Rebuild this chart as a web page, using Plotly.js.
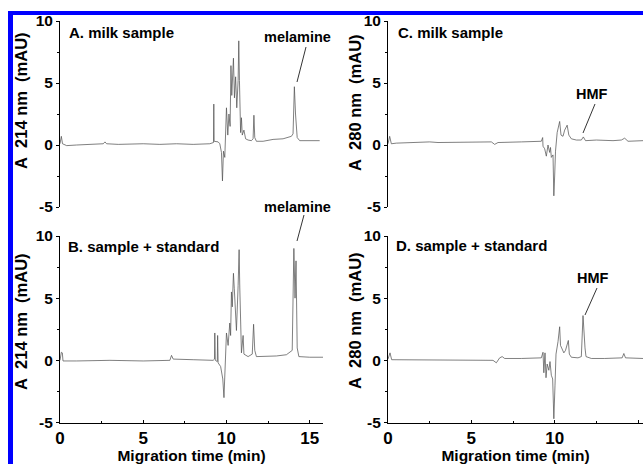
<!DOCTYPE html>
<html>
<head>
<meta charset="utf-8">
<script src="https://cdn.plot.ly/plotly-3.0.1.min.js"></script>
<style>html,body{margin:0;padding:0;background:#fff;}#chart{width:643px;height:464px;}</style>
</head>
<body>
<div id="chart"></div>
<script>
// ---- Data (migration time in min, absorbance in mAU) ----
const timeA = [0.0,0.08,0.15,0.4,1.0,2.0,2.6,2.7,2.8,3.5,5.0,6.0,7.0,8.0,9.0,9.22,9.24,9.26,9.5,9.6,9.7,9.76,9.82,9.9,10.0,10.08,10.15,10.22,10.27,10.32,10.42,10.48,10.55,10.62,10.7,10.74,10.78,10.85,10.9,10.95,11.05,11.15,11.3,11.5,11.6,11.65,11.7,11.8,12.2,12.8,13.4,13.9,14.0,14.08,14.15,14.25,14.4,15.0,15.6];
const absA  = [0.1,0.7,0.1,-0.05,0.0,0.05,0.1,0.25,0.1,0.05,0.1,0.05,0.1,0.05,0.1,0.2,3.3,0.3,0.25,0.1,-0.6,-2.9,-0.5,-1.0,3.0,0.8,2.5,1.5,6.4,4.0,7.0,3.8,5.5,3.0,5.2,8.4,5.2,1.0,2.2,0.8,1.2,0.5,0.4,0.35,0.5,2.4,0.6,0.3,0.3,0.45,0.5,0.7,0.9,4.7,2.5,0.6,0.35,0.35,0.35];

const timeB = [0.0,0.08,0.14,0.18,1.0,3.0,5.0,6.6,6.7,6.8,8.0,9.2,9.28,9.3,9.33,9.45,9.47,9.5,9.65,9.78,9.85,9.92,10.0,10.1,10.2,10.25,10.3,10.35,10.42,10.47,10.55,10.6,10.7,10.76,10.8,10.85,10.9,11.0,11.05,11.3,11.55,11.63,11.7,11.8,12.3,13.0,13.6,13.95,14.05,14.12,14.18,14.25,14.35,15.0,15.8];
const absB  = [0.0,0.65,0.6,-0.05,-0.05,0.0,-0.05,0.0,0.4,0.1,0.05,0.0,0.1,2.2,0.0,-0.1,2.0,-0.2,-0.5,-1.5,-3.0,-1.0,2.2,1.2,3.0,2.0,5.5,4.3,7.0,5.8,4.0,2.4,6.0,8.9,5.9,2.2,0.6,2.0,0.5,0.3,0.5,2.9,0.8,0.3,0.3,0.35,0.45,0.8,9.0,5.0,8.0,1.0,0.3,0.25,0.25];

const timeC = [0.0,0.1,0.2,0.5,1.5,2.5,3.0,4.5,6.2,6.4,6.6,8.0,9.2,9.28,9.3,9.4,9.5,9.6,9.7,9.75,9.8,9.9,9.95,10.0,10.05,10.15,10.3,10.38,10.5,10.6,10.75,10.85,11.0,11.3,11.6,11.72,11.85,12.5,13.5,14.0,14.2,14.4,15.3];
const absC  = [0.1,0.7,0.1,0.15,0.2,0.25,0.2,0.25,0.25,0.05,0.2,0.25,0.3,0.6,-0.1,-0.3,-0.9,0.0,-0.6,-0.2,-1.0,-0.8,-4.1,-2.5,-0.5,1.0,1.9,0.8,0.7,1.2,1.6,0.8,0.5,0.4,0.4,0.65,0.35,0.4,0.35,0.4,0.55,0.3,0.35];

const timeD = [0.0,0.12,0.22,1.0,2.0,3.0,4.0,5.0,6.3,6.5,6.7,6.85,7.0,8.0,9.2,9.3,9.35,9.42,9.48,9.55,9.65,9.72,9.8,9.88,9.95,10.02,10.08,10.2,10.3,10.35,10.45,10.55,10.65,10.82,10.88,11.0,11.4,11.6,11.7,11.76,11.82,11.88,12.2,13.0,13.8,14.05,14.15,14.25,15.3];
const absD  = [0.1,0.6,0.05,0.05,0.05,0.05,0.0,0.0,0.0,-0.2,0.2,0.3,0.15,0.15,0.2,0.65,-1.0,0.6,-1.4,-0.3,-0.8,-0.1,-1.2,-1.5,-4.7,-2.0,0.5,1.5,2.7,1.2,0.9,0.6,0.8,1.6,0.5,0.25,0.2,0.3,3.6,2.0,1.0,0.3,0.15,0.15,0.15,0.2,0.55,0.2,0.15];

const xTickVals = [0, 5, 10, 15];
const xTickText = ['0', '5', '10', '15'];
const yTickVals = [-5, 0, 5, 10];
const yTickText = ['-5', '0', '5', '10'];
const panelLabels = ['A. milk sample', 'B. sample + standard', 'C. milk sample', 'D. sample + standard'];
const yTitles = ['A&nbsp; 214 nm&nbsp; (mAU)', 'A&nbsp; 214 nm&nbsp; (mAU)',
                 'A&nbsp; 280 nm&nbsp; (mAU)', 'A&nbsp; 280 nm&nbsp; (mAU)'];
const xTitle = 'Migration time (min)';

// ---- Layout helpers (pixel -> paper) ----
const W = 643, H = 464;
const px = v => v / W;
const py = v => 1 - v / H;
const FAM = 'Liberation Sans, Arial, sans-serif';

const lineStyle = {color: '#555', width: 0.75};
const traces = [
  {x: timeA, y: absA, xaxis: 'x',  yaxis: 'y'},
  {x: timeB, y: absB, xaxis: 'x2', yaxis: 'y2'},
  {x: timeC, y: absC, xaxis: 'x3', yaxis: 'y3'},
  {x: timeD, y: absD, xaxis: 'x4', yaxis: 'y4'}
].map(t => Object.assign(t, {type: 'scatter', mode: 'lines', line: lineStyle, hoverinfo: 'skip', showlegend: false}));

const leftDom = [px(60), px(323)];
const rightDom = [px(388), 1];
const topDom = [py(207), py(21)];
const botDom = [py(422.5), py(236)];

function yAx(dom, anchor) {
  return {
    domain: dom, anchor: anchor, range: [-5, 10], tickvals: yTickVals, ticktext: yTickText,
    showline: true, linecolor: '#000', linewidth: 1, mirror: false,
    ticks: 'outside', ticklen: 3, tickwidth: 1, tickcolor: '#000',
    minor: {ticks: 'outside', ticklen: 2, tickvals: [-2.5, 2.5, 7.5], tickcolor: '#000'},
    showgrid: false, zeroline: false,
    tickfont: {family: FAM, size: 15.5, color: '#000', weight: 700}, ticklabelstandoff: 0
  };
}
function xAx(dom, anchor, rng, visible) {
  return {
    domain: dom, anchor: anchor, range: rng, tickvals: xTickVals, ticktext: xTickText, visible: visible,
    showline: true, linecolor: '#000', linewidth: 1,
    ticks: 'inside', ticklen: 3, tickcolor: '#000',
    minor: {ticks: 'inside', ticklen: 2, tickvals: [2.5, 7.5, 12.5], tickcolor: '#000'},
    showgrid: false, zeroline: false,
    tickfont: {family: FAM, size: 17, color: '#000', weight: 700},
    title: visible ? {text: xTitle, font: {family: FAM, size: 15.5, color: '#000', weight: 700}, standoff: 4} : undefined
  };
}

const ann = [];
// panel labels
[[67, 32], [66, 246], [396, 32], [394, 245]].forEach((p, i) => {
  ann.push({xref: 'paper', yref: 'paper', x: px(p[0]), y: py(p[1]), xanchor: 'left', yanchor: 'middle',
            text: panelLabels[i], showarrow: false, font: {family: FAM, size: 15, color: '#000', weight: 700}});
});
// y titles
[[21, 101], [21, 322], [355, 103], [355, 321]].forEach((p, i) => {
  ann.push({xref: 'paper', yref: 'paper', x: px(p[0]), y: py(p[1]), xanchor: 'center', yanchor: 'middle', textangle: -90,
            text: yTitles[i], showarrow: false, font: {family: FAM, size: 16.5, color: '#000', weight: 700}});
});
// peak labels
[['melamine', 297.5, 37], ['melamine', 297.5, 207], ['HMF', 592, 94], ['HMF', 593, 278]].forEach(p => {
  ann.push({xref: 'paper', yref: 'paper', x: px(p[1]), y: py(p[2]), xanchor: 'center', yanchor: 'middle',
            text: p[0], showarrow: false, font: {family: FAM, size: 14.5, color: '#000', weight: 700}});
});

const shapes = [];
[[306, 47, 297, 82], [304, 215, 297, 241], [595, 104, 583, 133], [597, 288, 585, 315]].forEach(l => {
  shapes.push({type: 'line', xref: 'paper', yref: 'paper', x0: px(l[0]), y0: py(l[1]), x1: px(l[2]), y1: py(l[3]),
               line: {color: '#000', width: 0.8}});
});
// blue frame
shapes.push({type: 'rect', xref: 'paper', yref: 'paper', x0: px(8), x1: px(13), y0: 0, y1: py(11), fillcolor: '#0000ff', line: {width: 0}, layer: 'above'});
shapes.push({type: 'rect', xref: 'paper', yref: 'paper', x0: px(8), x1: 1, y0: py(15), y1: py(11), fillcolor: '#0000ff', line: {width: 0}, layer: 'above'});

const layout = {
  width: W, height: H, margin: {l: 0, r: 0, t: 0, b: 0},
  paper_bgcolor: '#fff', plot_bgcolor: '#fff', showlegend: false,
  font: {family: FAM, color: '#000'},
  xaxis: xAx(leftDom, 'y', [0, 15.8], false),
  yaxis: yAx(topDom, 'x'),
  xaxis2: xAx(leftDom, 'y2', [0, 15.8], true),
  yaxis2: yAx(botDom, 'x2'),
  xaxis3: xAx(rightDom, 'y3', [0, 15.3], false),
  yaxis3: yAx(topDom, 'x3'),
  xaxis4: xAx(rightDom, 'y4', [0, 15.3], true),
  yaxis4: yAx(botDom, 'x4'),
  annotations: ann, shapes: shapes
};

Plotly.newPlot('chart', traces, layout, {staticPlot: true, displayModeBar: false});
</script>
</body>
</html>
